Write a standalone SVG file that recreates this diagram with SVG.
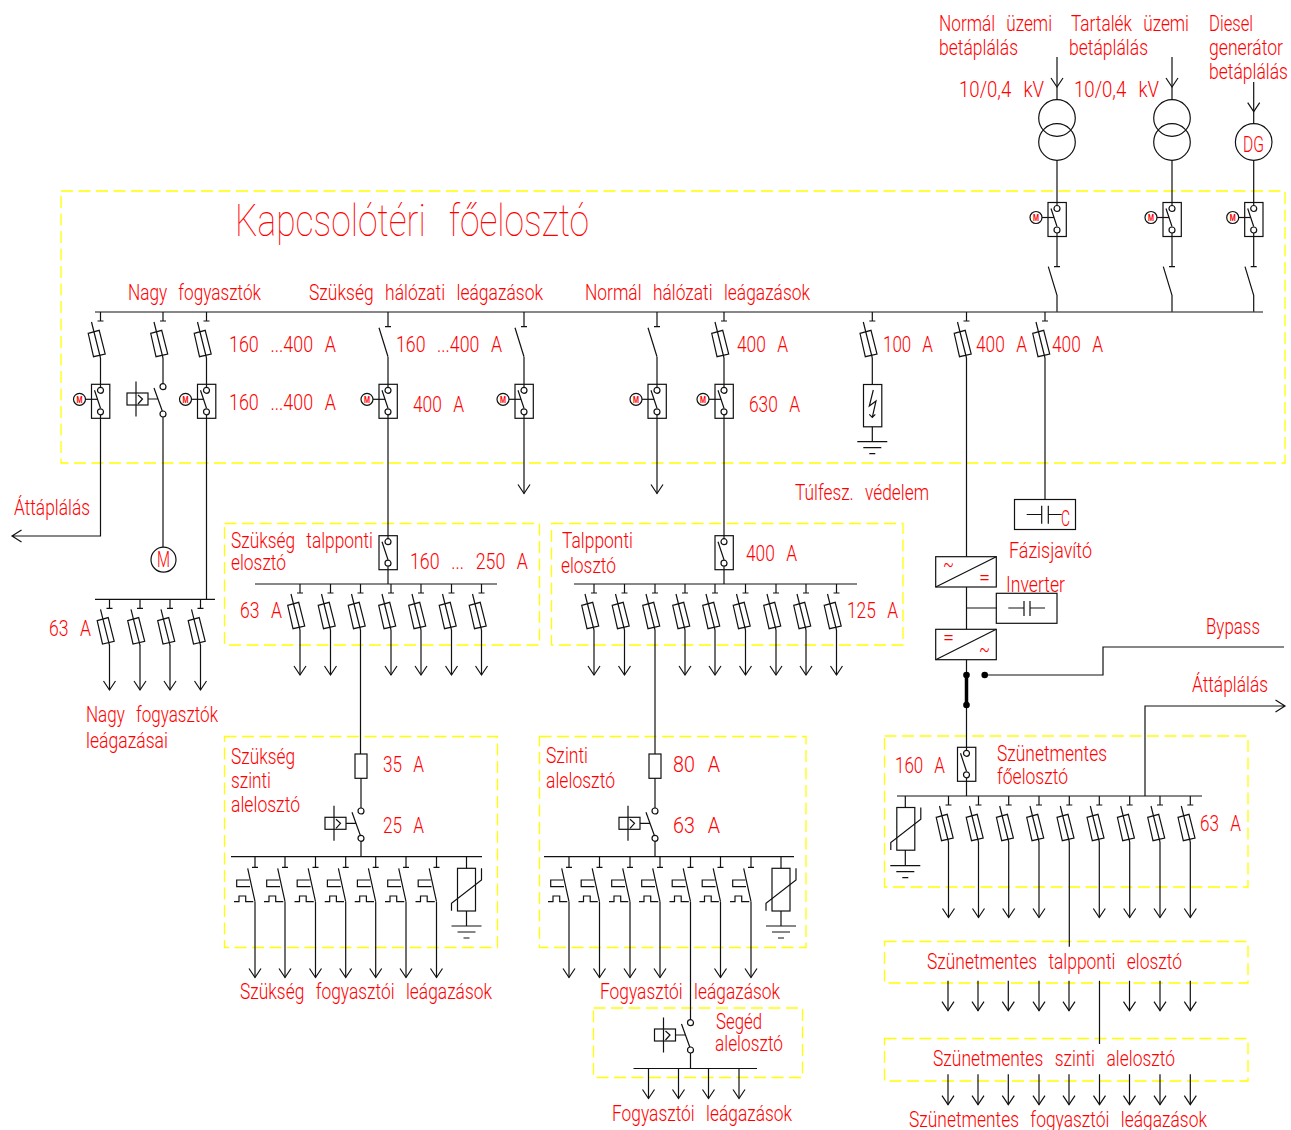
<svg xmlns="http://www.w3.org/2000/svg" width="1291" height="1130" viewBox="0 0 1291 1130">
<style>
.l{fill:none;stroke:#111;stroke-width:1.2}
.b{fill:#fff;stroke:#111;stroke-width:1.2}
.y{fill:none;stroke:#ff0;stroke-width:1.3;stroke-dasharray:12 5.5}
text{font-family:Roboto,"Liberation Sans",sans-serif;font-weight:300;font-size:22px;fill:#f00;word-spacing:9px}
.m{font-size:9px;font-weight:700;word-spacing:0}
</style>
<defs>
<g id="fuse"><path class="l" d="M0 0V9M-3 9H3M-9 10L0 46"/><path class="l" d="M-12.3 21.3L-1.3 18.3L4.7 42L-7 44.7Z"/></g>
<path id="arrow" class="l" d="M-6 -9L0 0L6 -9"/>
<path id="iso" class="l" d="M0 0V14.7M-3 14.7H3M-9 15.8L0 44.7"/>
<path id="isotop" class="l" d="M-3 0H3M-8.7 0L0 28.6V45"/>
<g id="brk"><rect class="l" x="-9" y="0" width="18.3" height="34"/><path class="l" d="M0 0V3M0 30.5V34M-6 6L0 24"/><circle class="b" cx="0" cy="6" r="3"/><circle class="b" cx="0" cy="27.5" r="3"/></g>
<g id="mbrk"><use href="#brk"/><circle class="l" cx="-21" cy="15" r="6"/><path class="l" d="M-15 15H-3"/></g>
<g id="relay"><rect class="l" x="-36" y="-6" width="21" height="12"/><path class="l" d="M-27 -17.5V17.5M-25 -4L-20.5 0L-25 5M-15 0H-5M-9 -11L0 14"/><circle class="b" cx="0" cy="-12.3" r="3"/><circle class="b" cx="0" cy="15" r="3"/></g>
<path id="earth" class="l" d="M-15 0H15M-9 6H9M-3 12H3"/>
<g id="var"><rect class="l" x="-9" y="0" width="18" height="42.7"/><path class="l" d="M-15 42.4V35L15 11.7V0"/></g>
<path id="aut" class="l" d="M0 0V10.7M-3 10.7H3M-7.3 11.6L0 45M-5.7 23.3H-18.3V30H-5M-21 45H-16V39.3H-9.3V45H-1.7"/>
</defs>

<g id="frames">
<rect class="y" x="61" y="191" width="1224" height="272"/>
<rect class="y" x="224.5" y="523.5" width="315" height="121.5"/>
<rect class="y" x="551.5" y="523.5" width="351.5" height="121.5"/>
<rect class="y" x="224.5" y="736.5" width="273" height="211"/>
<rect class="y" x="539.5" y="736.5" width="266.5" height="211"/>
<rect class="y" x="884.5" y="736" width="363.5" height="151"/>
<rect class="y" x="884.5" y="941.5" width="363.5" height="41.5"/>
<rect class="y" x="884.5" y="1038.5" width="363.5" height="42.5"/>
<rect class="y" x="593.5" y="1008" width="209" height="69.5"/>
</g>

<g id="connectors">
<path class="l" d="M95 312H1263M255 584H497M574 584H857M95 599.3H215M231 856.7H482M544 856.7H794M633.5 1068.5H757M897 796H1202"/>
<path class="l" d="M100.5 358V384M100.5 418V536H12M21.5 530L12 536L21.5 542"/>
<path class="l" d="M163 358V384M163 414V547"/>
<path class="l" d="M206.5 358V384M206.5 418V599"/>
<path class="l" d="M388 357V384M388 418V536M388 570V584"/>
<path class="l" d="M524 357V384M524 418V493.5"/>
<path class="l" d="M657 357V384M657 418V493.5"/>
<path class="l" d="M724 358V384M724 418V536M724 570V584"/>
<path class="l" d="M872.3 358V384.5M872.3 426.7V441.7"/>
<path class="l" d="M966.5 358V556.7M966.5 587V629.3M966.5 659.7V675M966.5 705V747.5M966.5 781V796M966.5 608H996.5"/>
<path class="l" d="M1045 358V499.5"/>
<path class="l" d="M984.7 675H1103V647H1284"/>
<path class="l" d="M1145 796V706H1285M1275.5 700L1285 706L1275.5 712"/>
<path class="l" d="M1057 57V100M1057 160.5V202.5M1057 236.5V266.7"/>
<path class="l" d="M1172 57V100M1172 160.5V202.5M1172 236.5V266.7"/>
<path class="l" d="M1253.7 82V124M1253.7 160.5V202.5M1253.7 236.5V266.7"/>
<path class="l" d="M300 630V675M330.5 630V675M360.5 630V754M361 778.3V808M361 838V856.7M391 630V675M421 630V675M451.5 630V675M481.5 630V675"/>
<path class="l" d="M594 630V675M624.5 630V675M655 630V754M655 778.3V808M655 838V856.7M685 630V675M715 630V675M745.5 630V675M776 630V675M806 630V675M836.5 630V675"/>
<path class="l" d="M109.5 645V690M140 645V690M170 645V690M200.5 645V690"/>
<path class="l" d="M255 901.7V977.5M285 901.7V977.5M315.5 901.7V977.5M345.7 901.7V977.5M375.7 901.7V977.5M406 901.7V977.5M436.5 901.7V977.5"/>
<path class="l" d="M569 901.7V977.5M599.5 901.7V977.5M630 901.7V977.5M660 901.7V977.5M690.5 901.7V1020M690.5 1053V1068.5M720.5 901.7V977.5M751 901.7V977.5"/>
<path class="l" d="M648.5 1068.5V1098.5M678.5 1068.5V1098.5M708.5 1068.5V1098.5M739 1068.5V1098.5"/>
<path class="l" d="M948.5 842V917.5M978.5 842V917.5M1008.7 842V917.5M1039 842V917.5M1069.3 842V946.7M1099.3 842V917.5M1129.7 842V917.5M1160 842V917.5M1190.3 842V917.5"/>
<path class="l" d="M948 980.7V1010.7M978 980.7V1010.7M1008.3 980.7V1010.7M1039 980.7V1010.7M1069 980.7V1010.7M1129.5 980.7V1010.7M1160 980.7V1010.7M1190.3 980.7V1010.7M1099.5 980.7V1044"/>
<path class="l" d="M948 1074.3V1104.7M978 1074.3V1104.7M1008.3 1074.3V1104.7M1039 1074.3V1104.7M1069 1074.3V1104.7M1099.5 1074.3V1104.7M1129.5 1074.3V1104.7M1160 1074.3V1104.7M1190.3 1074.3V1104.7"/>
<path class="l" d="M466.5 856.7V868.3M466.5 911V926M781 856.7V868.3M781 911V926"/>
<path class="l" d="M905.3 796V807.7M905.3 850V865.7"/>
</g>

<g id="arrows">
<use href="#arrow" x="524" y="493.5"/><use href="#arrow" x="657" y="493.5"/>
<use href="#arrow" x="1057" y="87"/><use href="#arrow" x="1172" y="87"/><use href="#arrow" x="1253.7" y="111.7"/>
<use href="#arrow" x="300" y="675"/><use href="#arrow" x="330.5" y="675"/><use href="#arrow" x="391" y="675"/><use href="#arrow" x="421" y="675"/><use href="#arrow" x="451.5" y="675"/><use href="#arrow" x="481.5" y="675"/>
<use href="#arrow" x="594" y="675"/><use href="#arrow" x="624.5" y="675"/><use href="#arrow" x="685" y="675"/><use href="#arrow" x="715" y="675"/><use href="#arrow" x="745.5" y="675"/><use href="#arrow" x="776" y="675"/><use href="#arrow" x="806" y="675"/><use href="#arrow" x="836.5" y="675"/>
<use href="#arrow" x="109.5" y="690"/><use href="#arrow" x="140" y="690"/><use href="#arrow" x="170" y="690"/><use href="#arrow" x="200.5" y="690"/>
<use href="#arrow" x="255" y="977.5"/><use href="#arrow" x="285" y="977.5"/><use href="#arrow" x="315.5" y="977.5"/><use href="#arrow" x="345.7" y="977.5"/><use href="#arrow" x="375.7" y="977.5"/><use href="#arrow" x="406" y="977.5"/><use href="#arrow" x="436.5" y="977.5"/>
<use href="#arrow" x="569" y="977.5"/><use href="#arrow" x="599.5" y="977.5"/><use href="#arrow" x="630" y="977.5"/><use href="#arrow" x="660" y="977.5"/><use href="#arrow" x="720.5" y="977.5"/><use href="#arrow" x="751" y="977.5"/>
<use href="#arrow" x="648.5" y="1098.5"/><use href="#arrow" x="678.5" y="1098.5"/><use href="#arrow" x="708.5" y="1098.5"/><use href="#arrow" x="739" y="1098.5"/>
<use href="#arrow" x="948.5" y="917.5"/><use href="#arrow" x="978.5" y="917.5"/><use href="#arrow" x="1008.7" y="917.5"/><use href="#arrow" x="1039" y="917.5"/><use href="#arrow" x="1099.3" y="917.5"/><use href="#arrow" x="1129.7" y="917.5"/><use href="#arrow" x="1160" y="917.5"/><use href="#arrow" x="1190.3" y="917.5"/>
<use href="#arrow" x="948" y="1010.7"/><use href="#arrow" x="978" y="1010.7"/><use href="#arrow" x="1008.3" y="1010.7"/><use href="#arrow" x="1039" y="1010.7"/><use href="#arrow" x="1069" y="1010.7"/><use href="#arrow" x="1129.5" y="1010.7"/><use href="#arrow" x="1160" y="1010.7"/><use href="#arrow" x="1190.3" y="1010.7"/>
<use href="#arrow" x="948" y="1104.7"/><use href="#arrow" x="978" y="1104.7"/><use href="#arrow" x="1008.3" y="1104.7"/><use href="#arrow" x="1039" y="1104.7"/><use href="#arrow" x="1069" y="1104.7"/><use href="#arrow" x="1099.5" y="1104.7"/><use href="#arrow" x="1129.5" y="1104.7"/><use href="#arrow" x="1160" y="1104.7"/><use href="#arrow" x="1190.3" y="1104.7"/>
</g>

<g id="main-fuses">
<use href="#fuse" x="100.5" y="312"/><use href="#fuse" x="163" y="312"/><use href="#fuse" x="206.5" y="312"/><use href="#fuse" x="724" y="312"/><use href="#fuse" x="872.3" y="312"/><use href="#fuse" x="966.5" y="312"/><use href="#fuse" x="1045" y="312"/>
<use href="#iso" x="388" y="312"/><use href="#iso" x="524" y="312"/><use href="#iso" x="657" y="312"/>
<use href="#isotop" x="1057" y="266.7"/><use href="#isotop" x="1172" y="266.7"/><use href="#isotop" x="1253.7" y="266.7"/>
</g>
<g id="breakers">
<use href="#mbrk" x="100.5" y="384.3"/><use href="#mbrk" x="206.5" y="384.3"/><use href="#mbrk" x="388" y="384.3"/><use href="#mbrk" x="524" y="384.3"/><use href="#mbrk" x="657" y="384.3"/><use href="#mbrk" x="724" y="384.3"/>
<use href="#mbrk" x="1057" y="202.5"/><use href="#mbrk" x="1172" y="202.5"/><use href="#mbrk" x="1253.7" y="202.5"/>
<use href="#brk" x="388" y="535.7"/><use href="#brk" x="724" y="535.7"/><use href="#brk" x="966.5" y="747.3"/>
<text class="m" x="76.5" y="402.7" textLength="6" lengthAdjust="spacingAndGlyphs">M</text><text class="m" x="182.5" y="402.7" textLength="6" lengthAdjust="spacingAndGlyphs">M</text><text class="m" x="364" y="402.7" textLength="6" lengthAdjust="spacingAndGlyphs">M</text><text class="m" x="500" y="402.7" textLength="6" lengthAdjust="spacingAndGlyphs">M</text><text class="m" x="633" y="402.7" textLength="6" lengthAdjust="spacingAndGlyphs">M</text><text class="m" x="700" y="402.7" textLength="6" lengthAdjust="spacingAndGlyphs">M</text>
<text class="m" x="1033" y="220.9" textLength="6" lengthAdjust="spacingAndGlyphs">M</text><text class="m" x="1148" y="220.9" textLength="6" lengthAdjust="spacingAndGlyphs">M</text><text class="m" x="1229.7" y="220.9" textLength="6" lengthAdjust="spacingAndGlyphs">M</text>
</g>
<g id="relays">
<use href="#relay" x="163" y="399"/><use href="#relay" x="361" y="823.3"/><use href="#relay" x="655" y="823.3"/><use href="#relay" x="690.5" y="1035"/>
</g>
<g id="sub-fuses">
<use href="#fuse" x="300" y="584"/><use href="#fuse" x="330.5" y="584"/><use href="#fuse" x="360.5" y="584"/><use href="#fuse" x="391" y="584"/><use href="#fuse" x="421" y="584"/><use href="#fuse" x="451.5" y="584"/><use href="#fuse" x="481.5" y="584"/>
<use href="#fuse" x="594" y="584"/><use href="#fuse" x="624.5" y="584"/><use href="#fuse" x="655" y="584"/><use href="#fuse" x="685" y="584"/><use href="#fuse" x="715" y="584"/><use href="#fuse" x="745.5" y="584"/><use href="#fuse" x="776" y="584"/><use href="#fuse" x="806" y="584"/><use href="#fuse" x="836.5" y="584"/>
<use href="#fuse" x="109.5" y="599.3"/><use href="#fuse" x="140" y="599.3"/><use href="#fuse" x="170" y="599.3"/><use href="#fuse" x="200.5" y="599.3"/>
<use href="#fuse" x="948.5" y="796"/><use href="#fuse" x="978.5" y="796"/><use href="#fuse" x="1008.7" y="796"/><use href="#fuse" x="1039" y="796"/><use href="#fuse" x="1069.3" y="796"/><use href="#fuse" x="1099.3" y="796"/><use href="#fuse" x="1129.7" y="796"/><use href="#fuse" x="1160" y="796"/><use href="#fuse" x="1190.3" y="796"/>
<rect class="l" x="355" y="754" width="12" height="24.3"/><rect class="l" x="649" y="754" width="12" height="24.3"/>
</g>
<g id="auto-switches">
<use href="#aut" x="255" y="856.7"/><use href="#aut" x="285" y="856.7"/><use href="#aut" x="315.5" y="856.7"/><use href="#aut" x="345.7" y="856.7"/><use href="#aut" x="375.7" y="856.7"/><use href="#aut" x="406" y="856.7"/><use href="#aut" x="436.5" y="856.7"/>
<use href="#aut" x="569" y="856.7"/><use href="#aut" x="599.5" y="856.7"/><use href="#aut" x="630" y="856.7"/><use href="#aut" x="660" y="856.7"/><use href="#aut" x="690.5" y="856.7"/><use href="#aut" x="720.5" y="856.7"/><use href="#aut" x="751" y="856.7"/>
</g>
<g id="surge">
<use href="#var" x="466.5" y="868.3"/><use href="#earth" x="466.5" y="926"/>
<use href="#var" x="781" y="868.3"/><use href="#earth" x="781" y="926"/>
<use href="#var" x="905.8" y="807.5"/><use href="#earth" x="905.3" y="865.7"/>
<rect class="l" x="863.5" y="384.5" width="18.3" height="42.3"/>
<path class="l" d="M873.3 390L869.3 406L876 401L872.3 417.3M869.3 414.3L872.3 417.3L875.3 414.3"/>
<use href="#earth" x="872.3" y="441.7"/>
</g>
<g id="transformers">
<circle class="l" cx="1057" cy="118" r="18.3"/><circle class="l" cx="1057" cy="142" r="18.3"/>
<circle class="l" cx="1172" cy="118" r="18.3"/><circle class="l" cx="1172" cy="142" r="18.3"/>
</g>
<g id="generator"><circle class="l" cx="1253.7" cy="142" r="18.3"/><text x="1243" y="152" textLength="21" lengthAdjust="spacingAndGlyphs">DG</text></g>
<g id="motor"><circle class="l" cx="163.5" cy="559.7" r="12.5"/><text x="157" y="567" textLength="13" lengthAdjust="spacingAndGlyphs">M</text></g>
<g id="converters">
<rect class="l" x="935.7" y="556.7" width="60.6" height="30.3"/><path class="l" d="M935.7 587L996.3 556.7"/>
<rect class="l" x="935.7" y="629.3" width="60.6" height="30.4"/><path class="l" d="M935.7 659.7L996.3 629.3"/>
<text x="943" y="572" textLength="11" lengthAdjust="spacingAndGlyphs">~</text><text x="979" y="585" textLength="11" lengthAdjust="spacingAndGlyphs">=</text>
<text x="943" y="645" textLength="11" lengthAdjust="spacingAndGlyphs">=</text><text x="979" y="657" textLength="11" lengthAdjust="spacingAndGlyphs">~</text>
</g>
<g id="capacitors">
<rect class="l" x="996.3" y="593.3" width="60.7" height="30"/><path class="l" d="M1008.3 608H1024M1024 601V616M1030 601V616M1030 608H1045"/>
<rect class="l" x="1014.5" y="499.5" width="61" height="30"/><path class="l" d="M1026.7 514.5H1041.7M1041.7 505.7V523.7M1048.3 505.7V523.7M1048.3 514.5H1061.7"/>
<text x="1061" y="526" textLength="9" lengthAdjust="spacingAndGlyphs">C</text>
</g>
<g id="bypass-switch">
<path fill="none" stroke="#000" stroke-width="3.5" d="M966.5 675V705"/>
<circle cx="966.5" cy="675" r="3.3"/><circle cx="966.5" cy="705" r="3.3"/><circle cx="984.7" cy="675" r="3.3"/>
</g>

<g id="labels">
<text x="235" y="236" style="font-size:44px;font-weight:100;word-spacing:18px" textLength="354" lengthAdjust="spacingAndGlyphs">Kapcsolótéri főelosztó</text>
<text x="128" y="300" textLength="133" lengthAdjust="spacingAndGlyphs">Nagy fogyasztók</text>
<text x="309" y="300" textLength="234" lengthAdjust="spacingAndGlyphs">Szükség hálózati leágazások</text>
<text x="585" y="300" textLength="225" lengthAdjust="spacingAndGlyphs">Normál hálózati leágazások</text>
<text x="229" y="352" textLength="107" lengthAdjust="spacingAndGlyphs">160 ...400 A</text>
<text x="229" y="410" textLength="107" lengthAdjust="spacingAndGlyphs">160 ...400 A</text>
<text x="396" y="352" textLength="106" lengthAdjust="spacingAndGlyphs">160 ...400 A</text>
<text x="413" y="412" textLength="51" lengthAdjust="spacingAndGlyphs">400 A</text>
<text x="737" y="352" textLength="51" lengthAdjust="spacingAndGlyphs">400 A</text>
<text x="749" y="412" textLength="51" lengthAdjust="spacingAndGlyphs">630 A</text>
<text x="883" y="352" textLength="50" lengthAdjust="spacingAndGlyphs">100 A</text>
<text x="976" y="352" textLength="51" lengthAdjust="spacingAndGlyphs">400 A</text>
<text x="1052" y="352" textLength="51" lengthAdjust="spacingAndGlyphs">400 A</text>
<text x="795" y="500" textLength="134" lengthAdjust="spacingAndGlyphs">Túlfesz. védelem</text>
<text x="14" y="515" textLength="76" lengthAdjust="spacingAndGlyphs">Áttáplálás</text>
<text x="231" y="548" textLength="142" lengthAdjust="spacingAndGlyphs">Szükség talpponti</text>
<text x="231" y="570" textLength="55" lengthAdjust="spacingAndGlyphs">elosztó</text>
<text x="410" y="569" textLength="118" lengthAdjust="spacingAndGlyphs">160 ... 250 A</text>
<text x="240" y="618" textLength="42" lengthAdjust="spacingAndGlyphs">63 A</text>
<text x="562" y="548" textLength="71" lengthAdjust="spacingAndGlyphs">Talpponti</text>
<text x="561" y="573" textLength="55" lengthAdjust="spacingAndGlyphs">elosztó</text>
<text x="746" y="561" textLength="51" lengthAdjust="spacingAndGlyphs">400 A</text>
<text x="847" y="618" textLength="51" lengthAdjust="spacingAndGlyphs">125 A</text>
<text x="49" y="636" textLength="42" lengthAdjust="spacingAndGlyphs">63 A</text>
<text x="86" y="722" textLength="132" lengthAdjust="spacingAndGlyphs">Nagy fogyasztók</text>
<text x="86" y="748" textLength="82" lengthAdjust="spacingAndGlyphs">leágazásai</text>
<text x="231" y="764" textLength="64" lengthAdjust="spacingAndGlyphs">Szükség</text>
<text x="231" y="788" textLength="40" lengthAdjust="spacingAndGlyphs">szinti</text>
<text x="231" y="812" textLength="69" lengthAdjust="spacingAndGlyphs">alelosztó</text>
<text x="383" y="772" textLength="41" lengthAdjust="spacingAndGlyphs">35 A</text>
<text x="383" y="833" textLength="41" lengthAdjust="spacingAndGlyphs">25 A</text>
<text x="546" y="763" textLength="42" lengthAdjust="spacingAndGlyphs">Szinti</text>
<text x="546" y="788" textLength="69" lengthAdjust="spacingAndGlyphs">alelosztó</text>
<text x="673" y="772" textLength="47" lengthAdjust="spacingAndGlyphs">80 A</text>
<text x="673" y="833" textLength="47" lengthAdjust="spacingAndGlyphs">63 A</text>
<text x="240" y="999" textLength="252" lengthAdjust="spacingAndGlyphs">Szükség fogyasztói leágazások</text>
<text x="600" y="999" textLength="180" lengthAdjust="spacingAndGlyphs">Fogyasztói leágazások</text>
<text x="716" y="1029" textLength="46" lengthAdjust="spacingAndGlyphs">Segéd</text>
<text x="715" y="1051" textLength="68" lengthAdjust="spacingAndGlyphs">alelosztó</text>
<text x="612" y="1121" textLength="180" lengthAdjust="spacingAndGlyphs">Fogyasztói leágazások</text>
<text x="997" y="761" textLength="110" lengthAdjust="spacingAndGlyphs">Szünetmentes</text>
<text x="997" y="784" textLength="71" lengthAdjust="spacingAndGlyphs">főelosztó</text>
<text x="895" y="773" textLength="50" lengthAdjust="spacingAndGlyphs">160 A</text>
<text x="1200" y="831" textLength="41" lengthAdjust="spacingAndGlyphs">63 A</text>
<text x="927" y="969" textLength="255" lengthAdjust="spacingAndGlyphs">Szünetmentes talpponti elosztó</text>
<text x="933" y="1066" textLength="242" lengthAdjust="spacingAndGlyphs">Szünetmentes szinti alelosztó</text>
<text x="909" y="1127" textLength="298" lengthAdjust="spacingAndGlyphs">Szünetmentes fogyasztói leágazások</text>
<text x="1206" y="634" textLength="54" lengthAdjust="spacingAndGlyphs">Bypass</text>
<text x="1192" y="692" textLength="76" lengthAdjust="spacingAndGlyphs">Áttáplálás</text>
<text x="1009" y="558" textLength="83" lengthAdjust="spacingAndGlyphs">Fázisjavító</text>
<text x="1006" y="592" textLength="59" lengthAdjust="spacingAndGlyphs">Inverter</text>
<text x="939" y="31" textLength="113" lengthAdjust="spacingAndGlyphs">Normál üzemi</text>
<text x="939" y="55" textLength="79" lengthAdjust="spacingAndGlyphs">betáplálás</text>
<text x="1071" y="31" textLength="118" lengthAdjust="spacingAndGlyphs">Tartalék üzemi</text>
<text x="1069" y="55" textLength="79" lengthAdjust="spacingAndGlyphs">betáplálás</text>
<text x="1209" y="31" textLength="44" lengthAdjust="spacingAndGlyphs">Diesel</text>
<text transform="translate(1209 55) scale(.8 1)" textLength="92.5" lengthAdjust="spacingAndGlyphs">generátor</text>
<text transform="translate(1209 79) scale(.8 1)" textLength="98.7" lengthAdjust="spacingAndGlyphs">betáplálás</text>
<text x="959" y="97" textLength="85" lengthAdjust="spacingAndGlyphs">10/0,4 kV</text>
<text x="1074" y="97" textLength="85" lengthAdjust="spacingAndGlyphs">10/0,4 kV</text>
</g>
</svg>
